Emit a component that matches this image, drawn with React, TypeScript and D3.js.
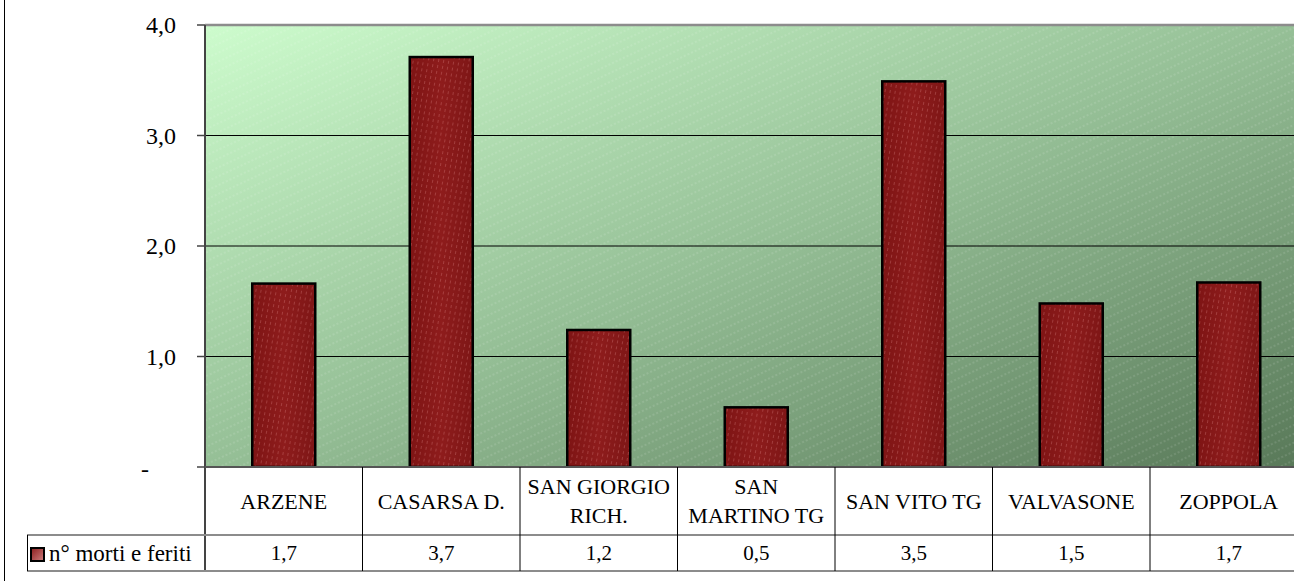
import React from "react";
import * as d3 from "d3";

const categories: string[][] = [
  ["ARZENE"],
  ["CASARSA D."],
  ["SAN GIORGIO", "RICH."],
  ["SAN", "MARTINO TG"],
  ["SAN VITO TG"],
  ["VALVASONE"],
  ["ZOPPOLA"],
];
const seriesName = "n° morti e feriti";
const values: number[] = [1.66, 3.71, 1.24, 0.54, 3.49, 1.48, 1.67];
const yTicks: number[] = [0, 1, 2, 3, 4];

const W = 1294;
const H = 581;
const FONT = "'Liberation Serif', 'Times New Roman', serif";

export default function App() {
  const left = 205;
  const step = 157.5;
  const right = left + step * categories.length;
  const top = 25;
  const bottom = 467;
  const rowDiv = 535;
  const tableBottom = 571;
  const legendLeft = 27;

  const keys = categories.map((c) => c.join(" "));
  const x = d3
    .scaleBand<string>()
    .domain(keys)
    .range([left, right])
    .paddingInner(0.6)
    .paddingOuter(0.3);
  const y = d3.scaleLinear().domain([0, 4]).range([bottom, top]);
  const fmt = (v: number) => (v === 0 ? "-" : d3.format(".1f")(v).replace(".", ","));

  return (
    <svg
      width={W}
      height={H}
      style={{ position: "absolute", left: 0, top: 0, background: "#fff" }}
      fontFamily={FONT}
    >
      <defs>
        <linearGradient id="bg" x1="0" y1="0" x2="1" y2="1">
          <stop offset="0" stopColor="#cdfccd" />
          <stop offset="0.5" stopColor="#95bf96" />
          <stop offset="1" stopColor="#587858" />
        </linearGradient>
        <pattern id="bgHatch" width="8" height="8" patternUnits="userSpaceOnUse" patternTransform="rotate(-25)">
          <line x1="0" y1="4" x2="8" y2="4" stroke="#ffffff" strokeOpacity="0.22" strokeWidth="1" strokeDasharray="2 2" />
        </pattern>
        <linearGradient id="barG" x1="0" y1="0" x2="1" y2="0">
          <stop offset="0" stopColor="#7e1414" />
          <stop offset="0.5" stopColor="#8e1c1c" />
          <stop offset="1" stopColor="#7e1616" />
        </linearGradient>
        <pattern id="barHatch" width="5" height="6" patternUnits="userSpaceOnUse" patternTransform="rotate(10)">
          <line x1="2.5" y1="0" x2="2.5" y2="6" stroke="#e89a9a" strokeOpacity="0.28" strokeWidth="1" strokeDasharray="3 3" />
        </pattern>
        <linearGradient id="keyG" x1="0" y1="0" x2="1" y2="1">
          <stop offset="0" stopColor="#8a1c1c" />
          <stop offset="1" stopColor="#d08080" />
        </linearGradient>
        <clipPath id="plotClip">
          <rect x={left} y={top} width={right - left} height={bottom - top} />
        </clipPath>
      </defs>

      {/* chart area border */}
      <line x1={4.5} y1={0} x2={4.5} y2={H} stroke="#000" strokeWidth={1} />

      {/* plot background */}
      <rect x={left} y={top} width={right - left} height={bottom - top} fill="url(#bg)" />
      <rect x={left} y={top} width={right - left} height={bottom - top} fill="url(#bgHatch)" />

      {/* gridlines */}
      {yTicks
        .filter((t) => t > 0 && t < 4)
        .map((t) => (
          <line key={t} x1={left} x2={right} y1={y(t)} y2={y(t)} stroke="#000" strokeWidth={1} />
        ))}

      {/* top border */}
      <line x1={left} x2={right} y1={top} y2={top} stroke="#8c8c8c" strokeWidth={2.5} />

      {/* bars */}
      <g clipPath="url(#plotClip)">
        {values.map((v, i) => {
          const bx = x(keys[i])!;
          const bw = x.bandwidth();
          const by = y(v);
          return (
            <g key={i}>
              <rect x={bx} y={by} width={bw} height={bottom - by} fill="url(#barG)" />
              <rect x={bx} y={by} width={bw} height={bottom - by} fill="url(#barHatch)" />
              <rect x={bx} y={by} width={bw} height={bottom - by} fill="none" stroke="#000" strokeWidth={2.5} />
            </g>
          );
        })}
      </g>

      {/* y axis */}
      <line x1={left} x2={left} y1={top} y2={tableBottom} stroke="#444" strokeWidth={2} />
      {yTicks.map((t) => (
        <g key={t}>
          <line x1={left - 8} x2={left} y1={y(t)} y2={y(t)} stroke="#444" strokeWidth={1.5} />
          <text
            x={t === 0 ? 149 : 176}
            y={t === 0 ? y(t) + 2 : y(t)}
            dy="0.35em"
            textAnchor="end"
            fontSize={24}
            fill="#000"
          >
            {fmt(t)}
          </text>
        </g>
      ))}

      {/* data table */}
      <line x1={left} x2={right} y1={bottom} y2={bottom} stroke="#555" strokeWidth={2} />
      <line x1={legendLeft} x2={right} y1={rowDiv} y2={rowDiv} stroke="#8c8c8c" strokeWidth={2} />
      <line x1={legendLeft} x2={right} y1={tableBottom} y2={tableBottom} stroke="#8c8c8c" strokeWidth={2} />
      <line x1={legendLeft + 0.5} x2={legendLeft + 0.5} y1={rowDiv} y2={tableBottom} stroke="#000" strokeWidth={1} />
      {keys.map((k, i) => {
        const cx = left + step * (i + 1);
        return (
          <line key={k} x1={cx} x2={cx} y1={bottom} y2={tableBottom} stroke="#000" strokeWidth={1} />
        );
      })}
      {categories.map((lines, i) => {
        const cx = x(keys[i])! + x.bandwidth() / 2;
        const midY = (bottom + rowDiv) / 2;
        const lh = 29;
        return (
          <text key={i} textAnchor="middle" fontSize={22} fill="#000">
            {lines.map((ln, j) => (
              <tspan key={j} x={cx} y={midY + (j - (lines.length - 1) / 2) * lh} dy="0.35em">
                {ln}
              </tspan>
            ))}
          </text>
        );
      })}
      {values.map((v, i) => {
        const cx = x(keys[i])! + x.bandwidth() / 2;
        return (
          <text key={i} x={cx} y={(rowDiv + tableBottom) / 2} dy="0.35em" textAnchor="middle" fontSize={21} fill="#000">
            {fmt(v)}
          </text>
        );
      })}

      {/* legend key */}
      <rect x={31} y={548} width={13} height={13} fill="url(#keyG)" stroke="#000" strokeWidth={2} />
      <text x={49} y={(rowDiv + tableBottom) / 2} dy="0.35em" fontSize={23} fill="#000">
        {seriesName}
      </text>
    </svg>
  );
}
